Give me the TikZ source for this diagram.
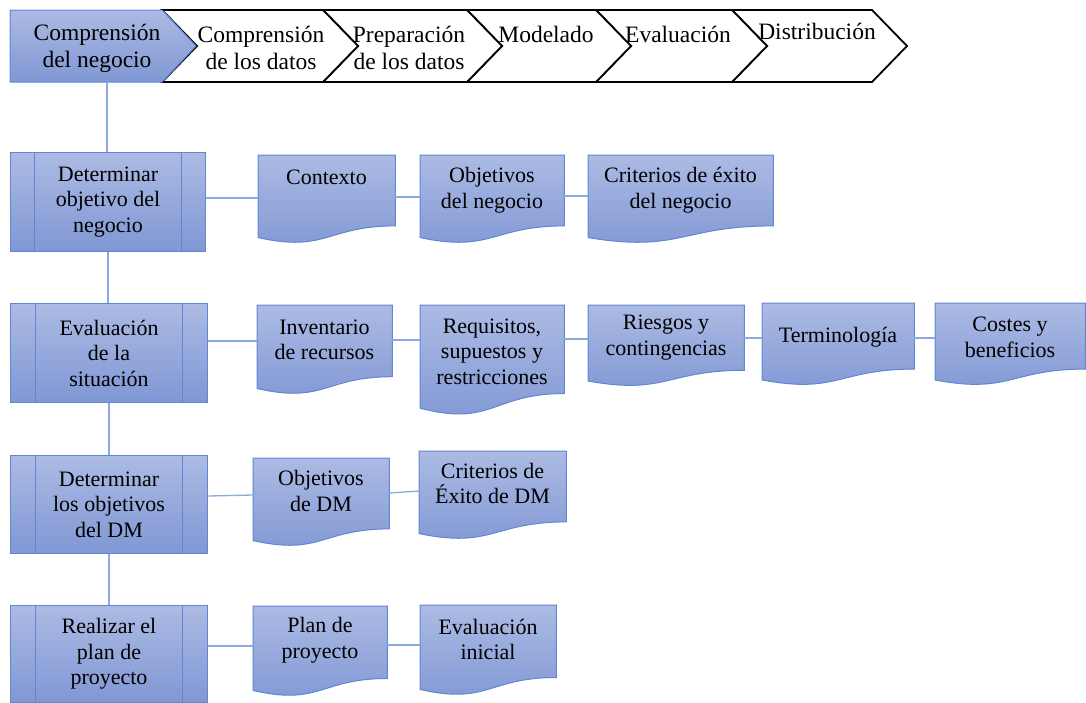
\documentclass[tikz,border=0pt]{standalone}
\usepackage{fontspec}
\setmainfont{Liberation Serif}
\usetikzlibrary{calc}
\definecolor{fillTop}{RGB}{172,187,228}
\definecolor{fillBot}{RGB}{128,151,212}
\definecolor{edgeBlue}{RGB}{95,135,210}
\definecolor{connBlue}{RGB}{140,170,225}
\newcommand\docshape[7]{%
  \node[docnode, minimum width=#4, minimum height=#5] (#1) at (#2,#3) {};
  \path[shaded] (#1.north west) -- (#1.north east)
    -- ($(#1.north east)!0.802!(#1.south east)$)
    .. controls ($(#1.north)!0.802!(#1.south)$) and ($(#1.north)!1.107!(#1.south)$)
    .. ($(#1.north west)!0.934!(#1.south west)$) -- cycle;
  \node[doctext] (#1-t) at ({#2+#4/2},#6) {#7};
}
\begin{document}
\begin{tikzpicture}[x=1pt,y=-1pt,
  boxfont/.style={font=\fontsize{22}{25.5}\selectfont},
  chevfont/.style={font=\fontsize{23.5}{27}\selectfont},
  shaded/.style={top color=fillTop,bottom color=fillBot,draw=edgeBlue,line width=1pt},
  ppbox/.style={shaded, rectangle, inner sep=0pt, align=center, boxfont, anchor=north west,
    path picture={
      \draw[edgeBlue, line width=1pt]
        ($(path picture bounding box.north west)!0.125!(path picture bounding box.north east)$) --
        ($(path picture bounding box.south west)!0.125!(path picture bounding box.south east)$)
        ($(path picture bounding box.north east)!0.125!(path picture bounding box.north west)$) --
        ($(path picture bounding box.south east)!0.125!(path picture bounding box.south west)$);
    }},
  docnode/.style={rectangle, inner sep=0pt, draw=none, anchor=north west},
  doctext/.style={boxfont, align=center, inner sep=0pt},
  conn/.style={draw=connBlue, line width=1.3pt},
  chev/.style={fill=white, draw=black, line width=1.8pt, line join=miter},
  chevtext/.style={chevfont, align=center, inner sep=0pt}
]
\useasboundingbox (0,0) rectangle (1086,702);

% --- chevron bar ---
\draw[chev] (732,10) -- (872,10) -- (907,46) -- (872,82) -- (732,82) -- (767,46) -- cycle;
\draw[chev] (596,10) -- (732,10) -- (767,46) -- (732,82) -- (596,82) -- (631,46) -- cycle;
\draw[chev] (467,10) -- (596,10) -- (631,46) -- (596,82) -- (467,82) -- (502,46) -- cycle;
\draw[chev] (323,10) -- (467,10) -- (502,46) -- (467,82) -- (323,82) -- (358,46) -- cycle;
\draw[chev] (162,10) -- (323,10) -- (358,46) -- (323,82) -- (162,82) -- (197,46) -- cycle;
\path[shaded] (10,10) -- (162,10) -- (196,46) -- (162,82) -- (10,82) -- cycle;

\node[chevtext] (c1) at (97,48) {Comprensión\\del negocio};
\node[chevtext] (c2) at (261,48) {Comprensión\\de los datos};
\node[chevtext] (c3) at (409,48) {Preparación\\de los datos};
\node[chevtext] (c4) at (546,34) {Modelado};
\node[chevtext] (c5) at (678,34) {Evaluación};
\node[chevtext] (c6) at (817,31) {Distribución};
\coordinate (cb) at (107,82);

% --- process boxes ---
\node[ppbox, minimum width=195, minimum height=99] (b1) at (10,152) {Determinar\\objetivo del\\negocio};
\node[ppbox, minimum width=197, minimum height=99] (b2) at (10,303) {Evaluación\\de la\\situación};
\node[ppbox, minimum width=197, minimum height=98] (b3) at (10,455) {Determinar\\los objetivos\\del DM};
\node[ppbox, minimum width=197, minimum height=97] (b4) at (10,605) {Realizar el\\plan de\\proyecto};

% --- documents ---
\docshape{ctx}{258}{155}{137}{88}{177}{Contexto}
\docshape{objn}{420}{155}{144}{88}{190}{Objetivos\\del negocio}
\docshape{crit}{588}{155}{185}{88}{190}{Criterios de éxito\\del negocio}
\docshape{inv}{257}{305}{135}{89}{340}{Inventario\\de recursos}
\docshape{req}{420}{305}{144}{110}{351.5}{Requisitos,\\supuestos y\\restricciones}
\docshape{ries}{588}{305}{156}{81}{337.5}{Riesgos y\\contingencias}
\docshape{term}{762}{303}{152}{82}{337}{Terminología}
\docshape{cost}{935}{303}{150}{82}{337.5}{Costes y\\beneficios}
\docshape{objdm}{253}{458}{136}{88}{491}{Objetivos\\de DM}
\docshape{critdm}{419}{451}{147}{88}{483.5}{Criterios de\\Éxito de DM}
\docshape{plan}{253}{606}{134}{90}{640}{Plan de\\proyecto}
\docshape{evi}{420}{605}{136}{90}{639.5}{Evaluación\\inicial}

% --- connectors ---
\draw[conn] (cb) -- (cb |- b1.north);
\draw[conn] (b1.south) -- (b1.south |- b2.north);
\draw[conn] (b2.south) -- (b2.south |- b3.north);
\draw[conn] (b3.south) -- (b3.south |- b4.north);

\draw[conn] (b1.east |- 0,198) -- (ctx.west |- 0,198);
\draw[conn] (ctx.east |- 0,197) -- (objn.west |- 0,197);
\draw[conn] (objn.east |- 0,196) -- (crit.west |- 0,196);

\draw[conn] (b2.east |- 0,341) -- (inv.west |- 0,341);
\draw[conn] (inv.east |- 0,340) -- (req.west |- 0,340);
\draw[conn] (req.east |- 0,339) -- (ries.west |- 0,339);
\draw[conn] (ries.east |- 0,338) -- (term.west |- 0,338);
\draw[conn] (term.east |- 0,338) -- (cost.west |- 0,338);

\draw[conn] (b3.east |- 0,496) -- (objdm.west |- 0,495);
\draw[conn] (objdm.east |- 0,493) -- (critdm.west |- 0,491);

\draw[conn] (b4.east |- 0,646) -- (plan.west |- 0,646);
\draw[conn] (plan.east |- 0,645) -- (evi.west |- 0,645);
\end{tikzpicture}
\end{document}
